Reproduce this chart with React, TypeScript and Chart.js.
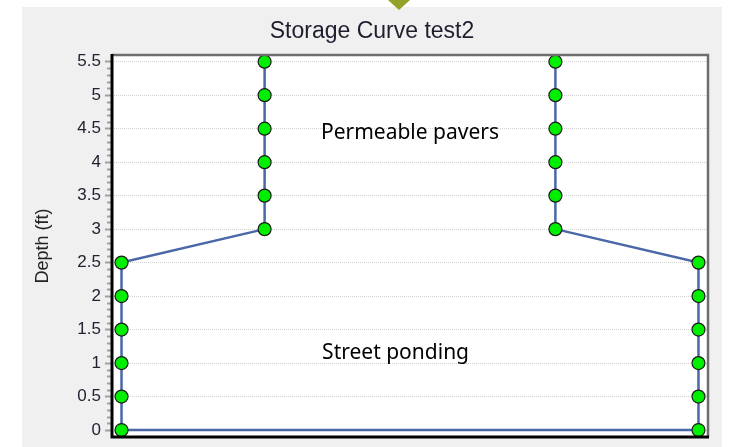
import React, { useEffect, useRef } from "react";
import { Chart, registerables } from "chart.js";

Chart.register(...registerables);

// ---- data ----
const depths = [0, 0.5, 1, 1.5, 2, 2.5, 3, 3.5, 4, 4.5, 5, 5.5];
const leftHalfWidths = [-10, -10, -10, -10, -10, -10, -5.04, -5.04, -5.04, -5.04, -5.04, -5.04];
const rightHalfWidths = [10, 10, 10, 10, 10, 10, 5.04, 5.04, 5.04, 5.04, 5.04, 5.04];
const yTickValues = [0, 0.5, 1, 1.5, 2, 2.5, 3, 3.5, 4, 4.5, 5, 5.5];
const yTickLabels = ["0", "0.5", "1", "1.5", "2", "2.5", "3", "3.5", "4", "4.5", "5", "5.5"];
const chartTitle = "Storage Curve test2";
const yAxisTitle = "Depth (ft)";
const annotationTexts = ["Permeable pavers", "Street ponding"];
const annotationX = [0, -0.5];
const annotationY = [4.45, 1.16];

function buildPath() {
  const pts: { x: number; y: number }[] = [];
  for (let i = depths.length - 1; i >= 0; i--) pts.push({ x: leftHalfWidths[i], y: depths[i] });
  for (let i = 0; i < depths.length; i++) pts.push({ x: rightHalfWidths[i], y: depths[i] });
  return pts;
}

const decorPlugin = {
  id: "decor",
  beforeDraw(chart: any) {
    const { ctx, chartArea } = chart;
    ctx.save();
    ctx.fillStyle = "#ffffff";
    ctx.fillRect(chartArea.left, chartArea.top, chartArea.right - chartArea.left, chartArea.bottom - chartArea.top);
    ctx.restore();
  },
  afterDraw(chart: any) {
    const { ctx, chartArea, scales } = chart;
    const { left, right, top, bottom } = chartArea;
    ctx.save();
    // minor ticks
    ctx.strokeStyle = "#a0a0a0";
    ctx.lineWidth = 2;
    for (let k = 0; k < yTickValues.length - 1; k++) {
      const a = yTickValues[k];
      const b = yTickValues[k + 1];
      for (let j = 1; j < 5; j++) {
        const v = a + ((b - a) * j) / 5;
        const py = Math.round(scales.y.getPixelForValue(v)) + 0.5;
        ctx.beginPath();
        ctx.moveTo(left - 5, py);
        ctx.lineTo(left, py);
        ctx.stroke();
      }
    }
    // borders: top & right grey
    ctx.strokeStyle = "#6e6e6e";
    ctx.lineWidth = 2.5;
    ctx.beginPath();
    ctx.moveTo(left, top);
    ctx.lineTo(right, top);
    ctx.lineTo(right, bottom);
    ctx.stroke();
    // left & bottom black
    ctx.strokeStyle = "#000000";
    ctx.lineWidth = 3;
    ctx.beginPath();
    ctx.moveTo(left, top - 1);
    ctx.lineTo(left, bottom);
    ctx.lineTo(right + 1, bottom);
    ctx.stroke();
    // title
    ctx.fillStyle = "#1e1e2e";
    ctx.font = "23px 'Liberation Sans', Arial, sans-serif";
    ctx.textAlign = "center";
    ctx.textBaseline = "middle";
    ctx.fillText(chartTitle, chart.width / 2, 25);
    // annotations
    ctx.fillStyle = "#000000";
    ctx.font = "21px 'Noto Sans', sans-serif";
    for (let i = 0; i < annotationTexts.length; i++) {
      ctx.fillText(
        annotationTexts[i],
        scales.x.getPixelForValue(annotationX[i]),
        scales.y.getPixelForValue(annotationY[i]) + 1
      );
    }
    ctx.restore();
  },
};

export default function App() {
  const ref = useRef<HTMLCanvasElement | null>(null);
  useEffect(() => {
    if (!ref.current) return;
    const chart = new Chart(ref.current, {
      type: "scatter",
      data: {
        datasets: [
          {
            data: buildPath(),
            showLine: true,
            borderColor: "#4a68a8",
            borderWidth: 2.5,
            pointRadius: 6.5,
            pointBackgroundColor: "#00ee00",
            pointBorderColor: "#1a1a1a",
            pointBorderWidth: 1.2,
            tension: 0,
          },
        ],
      },
      options: {
        animation: false,
        responsive: false,
        layout: { padding: { left: 0, right: 14, top: 48, bottom: 10 } },
        plugins: { legend: { display: false }, tooltip: { enabled: false }, title: { display: false } },
        scales: {
          x: { type: "linear", min: -10.33, max: 10.33, display: false },
          y: {
            type: "linear",
            min: -0.104,
            max: 5.6,
            afterFit(scale: any) {
              scale.width = 90;
              scale.paddingTop = 0;
              scale.paddingBottom = 0;
            },
            afterBuildTicks(scale: any) {
              scale.ticks = yTickValues.map((v) => ({ value: v }));
            },
            ticks: {
              padding: 4,
              color: "#222233",
              font: { family: "'Liberation Sans', Arial, sans-serif", size: 17 },
              callback: (value: any) => {
                const idx = yTickValues.indexOf(Number(value));
                return idx >= 0 ? yTickLabels[idx] : "";
              },
            },
            grid: {
              color: "#d2d2d2",
              lineWidth: 1,
              drawTicks: true,
              tickLength: 7,
              tickColor: "#a0a0a0",
              tickWidth: 2,
            },
            border: { display: false, dash: [1, 1] },
            title: {
              display: true,
              text: yAxisTitle,
              color: "#222222",
              font: { family: "'Liberation Sans', Arial, sans-serif", size: 18 },
              padding: { top: 10, bottom: 0 },
            },
          },
        },
      },
      plugins: [decorPlugin],
    } as any);
    (chart.options.scales as any).y.grid.borderDash = [1, 1];
    chart.update();
    return () => chart.destroy();
  }, []);

  return (
    <div style={{ position: "fixed", left: 0, top: 0, width: 729, height: 447, background: "#ffffff", overflow: "hidden" }}>
      <div style={{ position: "absolute", left: 22, top: 7, width: 700, height: 440, background: "#f0f0f0" }}>
        <canvas ref={ref} width={700} height={440} style={{ width: 700, height: 440, display: "block" }} />
      </div>
      <div
        style={{
          position: "absolute",
          left: 388,
          top: 0,
          width: 0,
          height: 0,
          borderLeft: "11px solid transparent",
          borderRight: "11px solid transparent",
          borderTop: "10px solid #93a328",
        }}
      />
    </div>
  );
}
